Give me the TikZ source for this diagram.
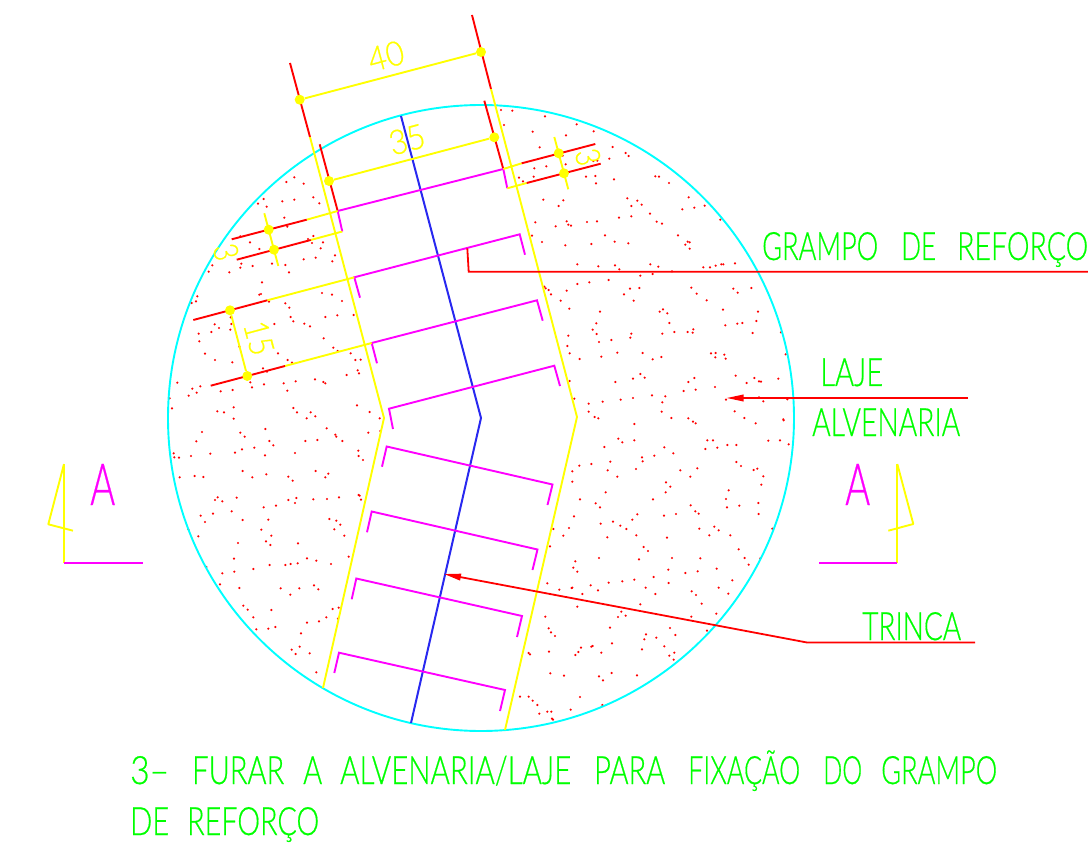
\documentclass[tikz,border=0pt]{standalone}
\usepackage{fontspec}
\usepackage{graphicx}
\usetikzlibrary{arrows.meta}
\newfontfamily\cadfont[FakeBold=0.6]{Lato Light}
\definecolor{cadred}{RGB}{255,0,0}
\definecolor{cadyellow}{RGB}{255,255,0}
\definecolor{cadmag}{RGB}{255,0,255}
\definecolor{cadcyan}{RGB}{0,255,255}
\definecolor{cadblue}{RGB}{40,40,240}
\definecolor{cadgreen}{RGB}{0,255,0}
\newcommand{\cadtxt}[3]{\resizebox{#1pt}{\height}{\fontsize{#2}{#2}\cadfont #3}}
\newcommand{\cw}[2]{\resizebox{#1pt}{\height}{\fontsize{39}{39}\cadfont #2}}
\newcommand{\gap}[1]{\hspace*{#1pt}}
\newcommand{\scat}[3]{\foreach \a/\b in {#3}{\fill[cadred] ({#1+\a/3},{#2+\b/3}) circle (1.2);}}
\tikzset{
  ry/.style={cadyellow,line width=1.9pt},
  rr/.style={cadred,line width=1.9pt},
  rm/.style={cadmag,line width=1.9pt},
  dimdot/.style={circle,fill=cadyellow,draw=none,inner sep=0pt,minimum size=10pt},
  lbl/.style={inner sep=0pt,anchor=base west},
  dimlbl/.style={inner sep=0pt,text=cadyellow},
  leader/.style={cadred,line width=1.8pt},
  tip/.style={-{Triangle[length=17pt,width=6.5pt]}}
}
\begin{document}
\begin{tikzpicture}[x=1pt,y=-1pt]
\useasboundingbox (0,0) rectangle (1088,845);
% dots
\scat{510}{100}{7/32,105/49,68/95,200/73,251/94,168/106,89/142,308/141,347/159,356/168,298/176,250/183,262/182,167/193,73/205,109/199,158/167,71/230,27/233,39/244,228/230,256/228,258/250,312/238,436/229,447/230,477/249,100/299,160/301,146/318,352/295,382/302,395/314,364/318,536/292,517/328,553/323,584/317,420/341,364/349,327/353,631/359,76/367,137/379,170/364,175/374,183/377,231/366,261/364,440/365,456/371,285/406,504/406,66/407,96/426,166/436,244/432,314/425,355/430,533/425,539/427,526/434,539/446,202/493,265/499,315/496,328/508,421/493,445/500,580/502,600/502,617/497,634/493,640/493,675/490,391/527,428/522,486/514,296/540,238/547,202/552,103/560,107/565,116/570,123/583,170/572,152/602,360/566,388/564,342/583,371/602,544/563,560/581,590/601,670/566,683/578,724/564,178/626,270/635,449/635,459/628,472/640,639/629,744/635,739/663,478/669,259/670,646/676,682/671,697/669,248/689,260/702,364/701,361/713,457/701,493/696,533/696,550/688,548/698,728/699,813/697,175/707,304/720,267/726,172/738,179/760,322/758,398/759,603/760,617/759,616/772,643/764,647/776,827/763,209/777,274/770,428/778,454/771,391/822,404/833,369/836,677/827,733/834,747/844,753/845,710/849,805/836,179/843,316/846,535/846,553/834,615/861,557/869,521/873,426/886,466/889,369/894,332/899,278/905,193/896,236/911,457/907,648/899,747/892,760/904,832/898,236/935,455/935,674/934,254/951,265/955,484/954,535/955,703/954,820/958}
\scat{510}{420}{373/12,549/5,557/10,737/10,821/1,325/56,337/67,373/61,592/61,609/61,586/87,622/83,652/75,679/75,775/62,810/61,836/73,283/81,463/82,490/100,433/107,396/112,398/124,301/125,244/132,208/137,187/154,293/151,378/147,511/151,562/145,679/126,693/138,731/150,742/146,760/169,322/170,541/170,754/194,187/185,468/187,481/200,287/217,467/217,656/211,210/238,429/238,648/237,257/250,270/262,542/256,745/249,651/262,688/257,556/274,566/281,382/283,498/282,462/287,746/282,192/289,367/299,309/305,272/311,331/317,349/327,613/320,568/326,626/331,787/326,130/327,177/324,160/347,379/346,598/346,661/346,292/352,471/353,120/379,401/381,414/393,686/388,267/414,387/418,486/414,571/415,704/414,751/415,196/424,716/434,190/443,620/446,202/455,475/449,563/454,526/459,431/471,373/479,337/484,296/488,667/481,476/489,112/490,242/496,185/504,187/503,407/503,626/503,148/509,264/511,545/514,217/522,436/522,558/525,655/521,391/553,575/551,202/560,334/575,324/591,347/587,106/590,544/590,619/581,300/623,480/624,116/625,123/637,135/648,591/632,408/643,496/645,439/653,403/658,306/670,463/679,213/683,248/678,244/680,117/695,205/696,196/705,274/698,396/688,493/698,478/707,56/699,60/703,491/719,121/760,162/767,305/759,267/769,279/781,381/766,30/830,56/830,68/842,82/855,210/831,277/855,88/881,112/875,124/875,182/869,126/896,129/899}
\scat{0}{440}{589/4,808/3,820/16,916/3,952/0,1027/3,521/40,523/52,537/53,573/48,631/41,705/38,726/28,763/23,795/46,885/39,1075/32,1076/48,1089/60,539/112,584/108,610/111,728/93,757/112,799/103,865/110,878/122,947/93,985/101,976/112,653/172,645/180,667/184,710/173,865/180,889/174,885/189,940/178,981/177,1017/172,1076/165,1079/167,1083/179,828/197,791/202,602/227,639/221,695/214,615/246,728/240,805/239,988/237,1009/242,1021/254,1003/268,784/269,565/268,595/289,814/287,1033/287,798/304,811/315,714/309,894/310,702/356,921/355,949/362,1046/350,856/375,872/372,893/370,809/375,993/372,619/381,760/387,703/395,667/400,660/433,718/444,842/445,898/445,871/464,942/436,955/448,730/497,743/509,760/532,814/510,998/507,1016/503,979/532,957/544,921/548,1014/536,769/568,805/566,826/561,903/580,875/629,899/620,887/642,929/640,949/697}
\scat{165}{170}{364/36,388/22,416/41,445/82,463/100,296/87,279/101,305/110,352/94,388/89,358/143,367/170,226/199,255/217,283/237,429/207,445/198,441/219,474/217,467/235,510/256,416/268,452/263,502/274,142/286,229/281,226/293,263/288,321/281,361/285,131/305,193/307,372/307,291/337,288/372,283/374,97/379,93/394,80/399,471/369,501/374,312/395,361/400,373/413,531/393,377/441,385/454,481/441,517/436,566/435,197/442,199/462,149/463,328/462,418/461,435/469,162/474,196/479,139/486,101/491,103/514,476/505,505/533,518/543,223/530,120/551,339/550,557/550,150/570,202/577,368/570,381/578,571/570,587/569,294/595,306/605,578/601,582/610,545/615,37/638,256/637,261/652,356/640,392/634,450/628,475/636,481/640,297/643,82/656,106/649,95/668,71/677,167/664,203/660,367/662,14/685,21/715,206/712,157/724,177/727,385/714,396/727,437/727,451/739,425/745,576/706,614/726,644/745,206/746,301/777,485/775,111/786,226/788,239/800,511/794,514/800,610/788,646/783}
\scat{0}{0}{1503/330,1512/375}
% circle
\node[draw=cadcyan,line width=1.9pt,circle,minimum size=626pt,inner sep=0pt] (circ) at (481,418) {};
% crack
\coordinate (ca) at (401,116); \coordinate (cb) at (481,418); \coordinate (cc) at (411,723);
\draw[cadblue,line width=2pt] (ca) -- (cb) -- (cc);
% strip
\coordinate (yl0) at (290,63); \coordinate (yl1) at (310,137); \coordinate (yl2) at (384,418); \coordinate (yl3) at (323,688);
\coordinate (yr0) at (472,15); \coordinate (yr1) at (491,89); \coordinate (yr2) at (577,417); \coordinate (yr3) at (505,730);
\draw[rr] (yl0) -- (yl1); \draw[ry] (yl1) -- (yl2) -- (yl3);
\draw[rr] (yr0) -- (yr1); \draw[ry] (yr1) -- (yr2) -- (yr3);
% top staple
\coordinate (s1a) at (342.3,231.5); \coordinate (s1b) at (337.7,211); \coordinate (s1c) at (503.3,169); \coordinate (s1d) at (507.3,188.3);
\draw[rr] (319.7,144.3) -- (s1b); \draw[rr] (484.3,100.7) -- (s1c);
\draw[rm] (s1b) -- (s1a); \draw[rm] (s1b) -- (s1c); \draw[rm] (s1c) -- (s1d);
\draw[ry] (s1b) -- (306.7,219.7); \draw[rr] (306.7,219.7) -- (231.7,239.3);
\draw[ry] (s1a) -- (310.7,240); \draw[rr] (310.7,240) -- (236.7,259.7);
\draw[ry] (s1c) -- (521.7,163.3); \draw[rr] (521.7,163.3) -- (595.3,144);
\draw[ry] (s1d) -- (526.7,183); \draw[rr] (526.7,183) -- (600.7,163.7);
% staples upper
\draw[rm] (360,297.7) -- (354.3,277.3) -- (519.7,234.3) -- (525,254.7);
\draw[ry] (354.3,277.3) -- (267.3,300.3); \draw[rr] (267.3,300.3) -- (193.3,320);
\draw[rm] (377,363.3) -- (371.7,343) -- (537,300.3) -- (542.7,320.7);
\draw[ry] (371.7,343) -- (285,366); \draw[rr] (285,366) -- (210.7,385.7);
\draw[rm] (393,429) -- (389,408.7) -- (554.3,365.7) -- (560,386);
% staples lower
\draw[rm] (382,466.7) -- (386.7,446.5) -- (552.5,484.5) -- (547.5,505);
\draw[rm] (367,532.3) -- (371.7,511.5) -- (537.5,549.5) -- (532.5,570);
\draw[rm] (351.7,599.3) -- (356.3,578.5) -- (522,616) -- (517,637);
\draw[rm] (334.3,673) -- (339,652.7) -- (505,690) -- (500,711);
% dimensions
\node[dimdot] (d40a) at (299.7,99.7) {}; \node[dimdot] (d40b) at (481,52) {};
\draw[ry] (d40a) -- (d40b);
\node[dimdot] (d35a) at (329,181) {}; \node[dimdot] (d35b) at (494.3,137.3) {};
\draw[ry] (d35a) -- (d35b);
\coordinate (d3la) at (264.3,213.3); \coordinate (d3lb) at (278.3,266);
\draw[ry] (d3la) -- (d3lb);
\node[dimdot] (d3l1) at (268.7,229.7) {}; \node[dimdot] (d3l2) at (274,249.7) {};
\coordinate (d3ra) at (554.3,137); \coordinate (d3rb) at (568.3,189.3);
\draw[ry] (d3ra) -- (d3rb);
\node[dimdot] (d3r1) at (558.7,153.3) {}; \node[dimdot] (d3r2) at (564,173.3) {};
\node[dimdot] (d15a) at (230,310.3) {}; \node[dimdot] (d15b) at (247.3,376) {};
\draw[ry] (d15a) -- (d15b);
\node[dimlbl,rotate=15] (t40) at (386,56) {\cadtxt{36}{34}{40}};
\node[dimlbl,rotate=15] (t35) at (407,139.5) {\cadtxt{36}{34}{35}};
\node[dimlbl,rotate=-75] (t15) at (259,338) {\cadtxt{34}{34}{15}};
\node[dimlbl,rotate=-75] (t3l) at (226,252) {\cadtxt{16}{34}{3}};
\node[dimlbl,rotate=-75] (t3r) at (588,157) {\cadtxt{16}{34}{3}};
% section marks
\coordinate (la) at (64,464); \coordinate (lb) at (64,563.3); \coordinate (lc) at (143,563.3);
\draw[ry,line join=round] (la) -- (lb);
\draw[ry,line join=round] (la) -- (48.3,524.3) -- (73,530.7);
\draw[rm] (lb) -- (lc);
\coordinate (ra) at (897.3,464); \coordinate (rb) at (897.3,563.3); \coordinate (rc) at (818.7,563.3);
\draw[ry,line join=round] (ra) -- (rb);
\draw[ry,line join=round] (ra) -- (913.3,524) -- (888.3,530.7);
\draw[rm] (rb) -- (rc);
\node[lbl,text=cadmag] (al) at (90,505) {\cadtxt{25}{58}{A}};
\node[lbl,text=cadmag] (ar) at (845,505) {\cadtxt{25}{58}{A}};
% leaders
\coordinate (ga) at (467.3,248.3); \coordinate (gb) at (468.7,271.7); \coordinate (gc) at (1088,271.7);
\draw[leader] (ga) -- (gb) -- (gc);
\coordinate (la1) at (968,398); \coordinate (la2) at (726.5,398);
\draw[leader,tip] (la1) -- (la2);
\coordinate (tr1) at (975,642.5); \coordinate (tr2) at (807,642.5); \coordinate (tr3) at (444,574);
\draw[leader,tip] (tr1) -- (tr2) -- (tr3);
% labels
\node[lbl,text=cadgreen] (tg) at (762,260) {\cw{116}{GRAMPO}\gap{23}\cw{35}{DE}\gap{21}\cw{131}{REFORÇO}};
\node[lbl,text=cadgreen] (tl) at (820,386) {\cw{63}{LAJE}};
\node[lbl,text=cadgreen] (ta) at (812,436) {\cw{148}{ALVENARIA}};
\node[lbl,text=cadgreen] (tt) at (862,640) {\cw{99}{TRINCA}};
\node[lbl,text=cadgreen] (n1) at (130,784) {\cw{39}{3–}\gap{23}\cw{92}{FURAR}\gap{19}\cw{19}{A}\gap{18}\cw{231}{ALVENARIA/LAJE}\gap{23}\cw{71}{PARA}\gap{23}\cw{112}{FIXAÇÃO}\gap{23}\cw{39}{DO}\gap{19}\cw{116}{GRAMPO}};
\node[lbl,text=cadgreen] (n2) at (130,835) {\cw{39}{DE}\gap{18}\cw{132}{REFORÇO}};
\end{tikzpicture}
\end{document}
